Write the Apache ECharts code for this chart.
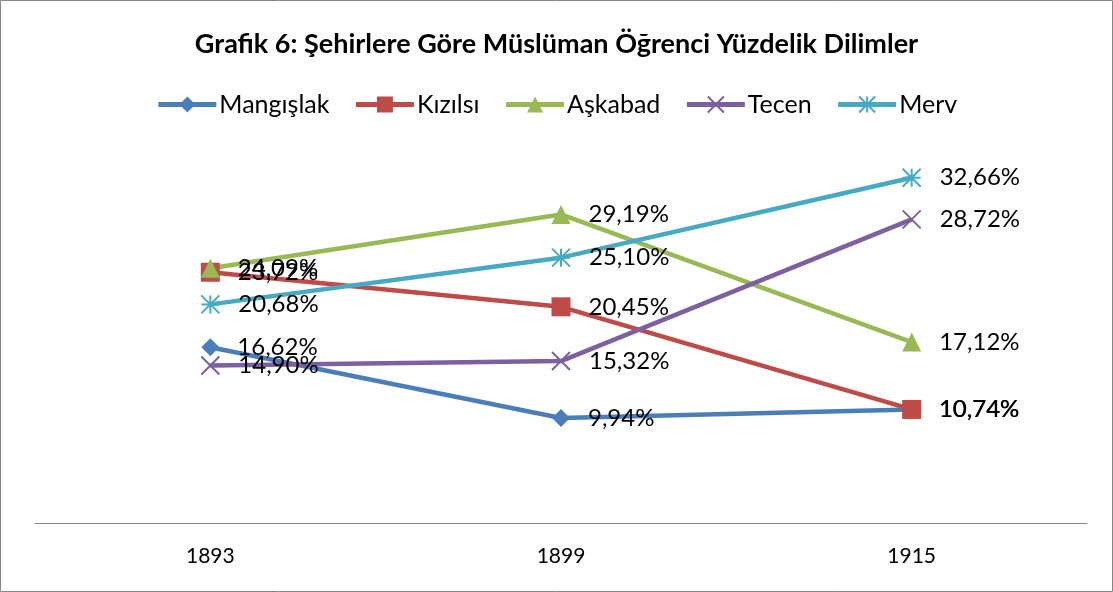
<!DOCTYPE html>
<html><head><meta charset="utf-8">
<script src="https://cdn.jsdelivr.net/npm/echarts@6/dist/echarts.min.js"></script>
<style>html,body{margin:0;padding:0;background:#fff}#c{width:1113px;height:592px}</style>
</head><body><div id="c"></div>
<script>
const categories = ['1893', '1899', '1915'];
const seriesNames = ['Mangışlak', 'Kızılsı', 'Aşkabad', 'Tecen', 'Merv'];
const mangislak = [16.62, 9.94, 10.74];
const kizilsi = [23.72, 20.45, 10.74];
const askabad = [24.09, 29.19, 17.12];
const tecen = [14.90, 15.32, 28.72];
const merv = [20.68, 25.10, 32.66];
const titleText = 'Grafik 6: Şehirlere Göre Müslüman Öğrenci Yüzdelik Dilimler';

const colors = ['#4a7ebb', '#be4b48', '#98b954', '#7d60a0', '#46aac5'];
const symbols = ['diamond', 'rect', 'triangle',
  'path://M0 0L10 10M10 0L0 10',
  'path://M0 0L10 10M10 0L0 10M5 0L5 10M0 5L10 5'];
const symbolSizes = [18, 19, 19, 18, 18];
const data = [mangislak, kizilsi, askabad, tecen, merv];
const font = 'Lato, "Open Sans", sans-serif';

const chart = echarts.init(document.getElementById('c'));
chart.setOption({
  animation: false,
  title: { text: titleText, left: 'center', top: 26,
    textStyle: { fontFamily: font, fontSize: 27, fontWeight: 'bold', color: '#000' } },
  legend: { top: 87, left: 'center', itemWidth: 58, itemHeight: 20, itemGap: 24,
    lineStyle: { width: 5 },
    textStyle: { fontFamily: font, fontSize: 25, color: '#000', padding: [0,0,0,-2] } },
  grid: { left: 35, right: 26, top: 153, bottom: 69 },
  xAxis: { type: 'category', data: categories, boundaryGap: true,
    axisLine: { lineStyle: { color: '#868686', width: 1 } },
    axisTick: { show: false },
    axisLabel: { fontFamily: font, fontSize: 21, color: '#000', margin: 23 } },
  yAxis: { type: 'value', min: 0, max: 35, show: false, splitLine: { show: false } },
  graphic: [{ type: 'rect', shape: { x: 0.5, y: 0.5, width: 1112, height: 591 },
    style: { fill: 'none', stroke: '#868686', lineWidth: 1 }, silent: true }],
  series: seriesNames.map((n, i) => ({
    name: n, type: 'line', data: data[i], color: colors[i],
    symbol: symbols[i], symbolSize: symbolSizes[i],
    lineStyle: { width: 4.5, color: colors[i] },
    itemStyle: i >= 3 ? { color: colors[i], borderColor: colors[i], borderWidth: 2 } : { color: colors[i] },
    label: { show: true, position: 'right', distance: 18, color: '#000',
      fontFamily: font, fontSize: 24,
      formatter: p => p.value.toFixed(2).replace('.', ',') + '%' }
  }))
});
</script></body></html>
